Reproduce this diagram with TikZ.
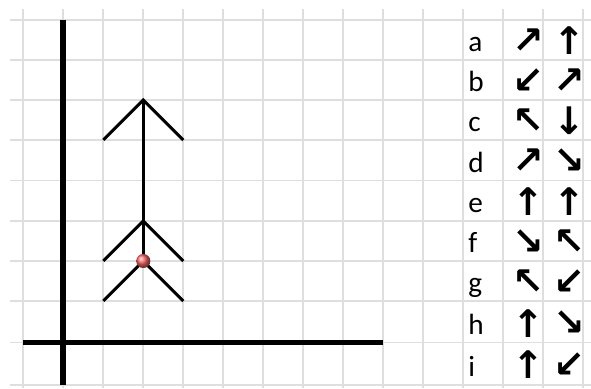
\documentclass[tikz,border=0pt]{standalone}
\usepackage{fontspec}
\usepackage{tikz}
\newfontfamily\cellfont{Carlito}
\newfontfamily\arrowfont{DejaVu Sans}
\definecolor{gridline}{RGB}{220, 222, 223}
\definecolor{dotred}{RGB}{245, 100, 100}

\begin{document}
\begin{tikzpicture}[x=0.025cm, y=-0.025cm,
		letter/.style={anchor=base west, inner sep=0pt, font=\cellfont\fontsize{20.8}{24}\selectfont},
		arrowsym/.style={inner sep=0pt, font=\arrowfont\bfseries\fontsize{27}{29}\selectfont}]
	\useasboundingbox (0,0) rectangle (591,388);

	% sheet cells
	\foreach \x in {23.3, 63.3, ..., 583.3}
		\draw[gridline, line width=1.4pt] (\x, 9) -- (\x, 388);
	\foreach \y in {20, 60, 100, 140, 180.5, 221, 261, 301, 342.5, 385}
		\draw[gridline, line width=1.4pt] (10, \y) -- (591, \y);

	% axes
	\draw[black, line width=4.2pt] (63.3, 20) -- (63.3, 385);
	\draw[black, line width=4.2pt] (23.3, 342.5) -- (383.3, 342.5);

	% stick with three chevrons
	\draw[black, line width=2.1pt] (143.3, 100) -- (143.3, 261);
	\draw[black, line width=2.1pt] (103.3, 140) -- (143.3, 100) -- (183.3, 140);
	\draw[black, line width=2.1pt] (103.3, 261) -- (143.3, 221) -- (183.3, 261);
	\draw[black, line width=2.1pt] (103.3, 301) -- (143.3, 261) -- (183.3, 301);
	\shade[ball color=dotred] (143.3, 261) circle[radius=5pt];

	% table of moves
	\node[letter] (la) at (468, 51.5) {a};
	\node[arrowsym] (a1) at (528, 41) {↗};
	\node[arrowsym] (a2) at (569, 41) {↑};

	\node[letter] (lb) at (468, 91.5) {b};
	\node[arrowsym] (b1) at (528, 81) {↙};
	\node[arrowsym] (b2) at (569, 81) {↗};

	\node[letter] (lc) at (468, 131.5) {c};
	\node[arrowsym] (c1) at (528, 121) {↖};
	\node[arrowsym] (c2) at (569, 121) {↓};

	\node[letter] (ld) at (468, 172) {d};
	\node[arrowsym] (d1) at (528, 161.5) {↗};
	\node[arrowsym] (d2) at (569, 161.5) {↘};

	\node[letter] (le) at (468, 212.5) {e};
	\node[arrowsym] (e1) at (528, 202) {↑};
	\node[arrowsym] (e2) at (569, 202) {↑};

	\node[letter] (lf) at (468, 252.5) {f};
	\node[arrowsym] (f1) at (528, 242) {↘};
	\node[arrowsym] (f2) at (569, 242) {↖};

	\node[letter] (lg) at (468, 292.5) {g};
	\node[arrowsym] (g1) at (528, 282) {↖};
	\node[arrowsym] (g2) at (569, 282) {↙};

	\node[letter] (lh) at (468, 334) {h};
	\node[arrowsym] (h1) at (528, 323.5) {↑};
	\node[arrowsym] (h2) at (569, 323.5) {↘};

	\node[letter] (li) at (468, 376.5) {i};
	\node[arrowsym] (i1) at (528, 365) {↑};
	\node[arrowsym] (i2) at (569, 365) {↙};

\end{tikzpicture}
\end{document}
